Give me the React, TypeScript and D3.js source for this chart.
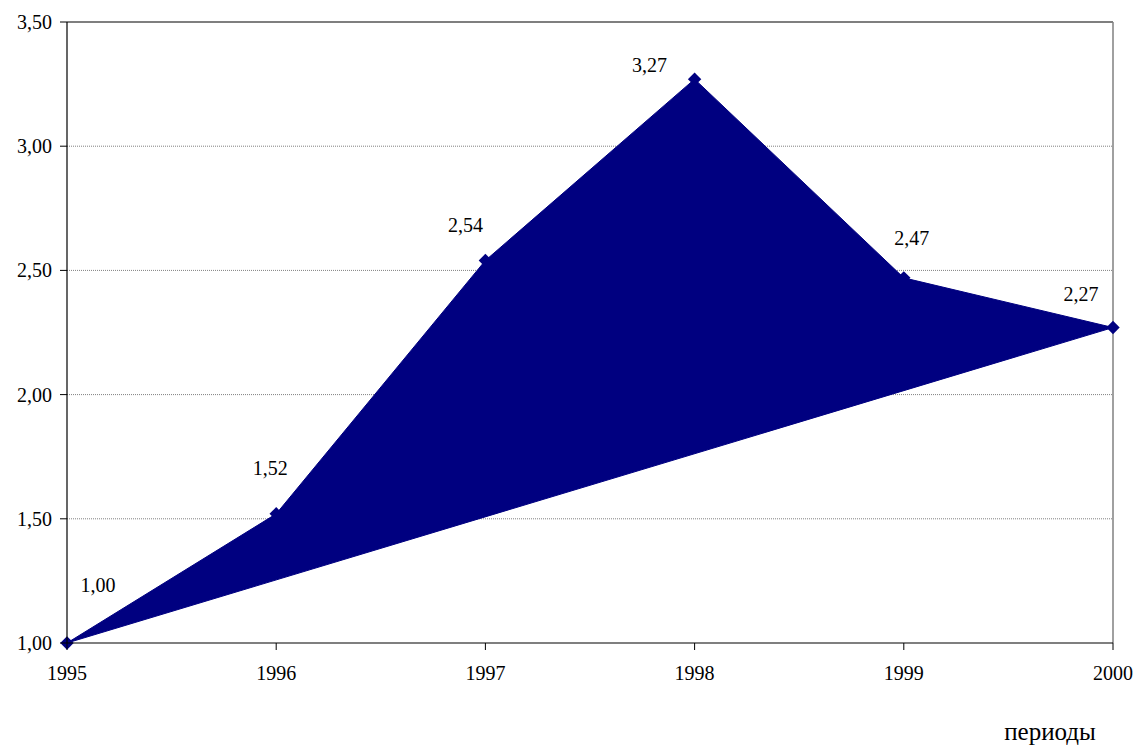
import React from 'react';
import * as d3 from 'd3';

const years: number[] = [1995, 1996, 1997, 1998, 1999, 2000];
const values: number[] = [1.0, 1.52, 2.54, 3.27, 2.47, 2.27];
const yTicks: number[] = [1.0, 1.5, 2.0, 2.5, 3.0, 3.5];
// manual label offsets (px) from each point, as placed in the original
const labelDx: number[] = [31, -6, -20, -45, 8, -32];
const labelDy: number[] = [-51, -39, -28, -7, -33, -27];
const axisTitle = 'периоды';

const width = 1137;
const height = 745;
const margin = { left: 67, right: 24, top: 22, bottom: 102 };
const font = "'Liberation Serif', 'Times New Roman', serif";
const navy = '#000080';

const fmt = (v: number) => d3.format('.2f')(v).replace('.', ',');

const App: React.FC = () => {
    const x = d3.scaleLinear()
        .domain([1995, 2000])
        .range([margin.left, width - margin.right]);
    const y = d3.scaleLinear()
        .domain([1, 3.5])
        .range([height - margin.bottom, margin.top]);

    const pts: [number, number][] = years.map((yr, i) => [x(yr), y(values[i])]);
    const area = d3.line().curve(d3.curveLinearClosed)(pts) || '';
    const marker = d3.symbol(d3.symbolSquare, 90)() || '';

    const x0 = x.range()[0], x1 = x.range()[1];
    const y0 = y.range()[0], y1 = y.range()[1];

    const txt = { fontFamily: font, fill: '#000' };

    return (
        <>
            <style>{'body{margin:0}'}</style>
            <svg width={width} height={height} style={{ display: 'block' }}>
                <rect x={0} y={0} width={width} height={height} fill="#fff" />
                {/* gridlines */}
                {yTicks.slice(1, -1).map(t => (
                    <line key={'g' + t} x1={x0} x2={x1} y1={y(t)} y2={y(t)}
                        stroke="#808080" strokeWidth={1} strokeDasharray="1,1" />
                ))}
                {/* plot border top/right */}
                <line x1={x0} x2={x1} y1={y1} y2={y1} stroke="#000" strokeWidth={1.2} />
                <line x1={x1} x2={x1} y1={y1} y2={y0} stroke="#808080" strokeWidth={1.5} />

                <path d={area} fill={navy} stroke={navy} strokeWidth={1} />
                {pts.map((p, i) => (
                    <path key={'m' + i} d={marker} fill={navy}
                        transform={`translate(${p[0]},${p[1]}) rotate(45)`} />
                ))}

                {/* axes */}
                <line x1={x0} x2={x0} y1={y1} y2={y0} stroke="#000" strokeWidth={1.2} />
                <line x1={x0} x2={x1} y1={y0} y2={y0} stroke="#000" strokeWidth={1.2} />
                {yTicks.map(t => (
                    <g key={'y' + t}>
                        <line x1={x0 - 7} x2={x0} y1={y(t)} y2={y(t)} stroke="#000" />
                        <text x={52} y={y(t)} dy="0.35em" textAnchor="end"
                            style={{ ...txt, fontSize: 20 }}>{fmt(t)}</text>
                    </g>
                ))}
                {years.map(yr => (
                    <g key={'x' + yr}>
                        <line x1={x(yr)} x2={x(yr)} y1={y0} y2={y0 + 7} stroke="#000" />
                        <text x={x(yr)} y={680} textAnchor="middle"
                            style={{ ...txt, fontSize: 20 }}>{yr}</text>
                    </g>
                ))}

                {/* data labels */}
                {pts.map((p, i) => (
                    <text key={'l' + i} x={p[0] + labelDx[i]} y={p[1] + labelDy[i]}
                        textAnchor="middle" style={{ ...txt, fontSize: 20 }}>
                        {fmt(values[i])}
                    </text>
                ))}

                <text x={1050} y={740} textAnchor="middle"
                    style={{ ...txt, fontSize: 25 }}>{axisTitle}</text>
            </svg>
        </>
    );
};

export default App;
